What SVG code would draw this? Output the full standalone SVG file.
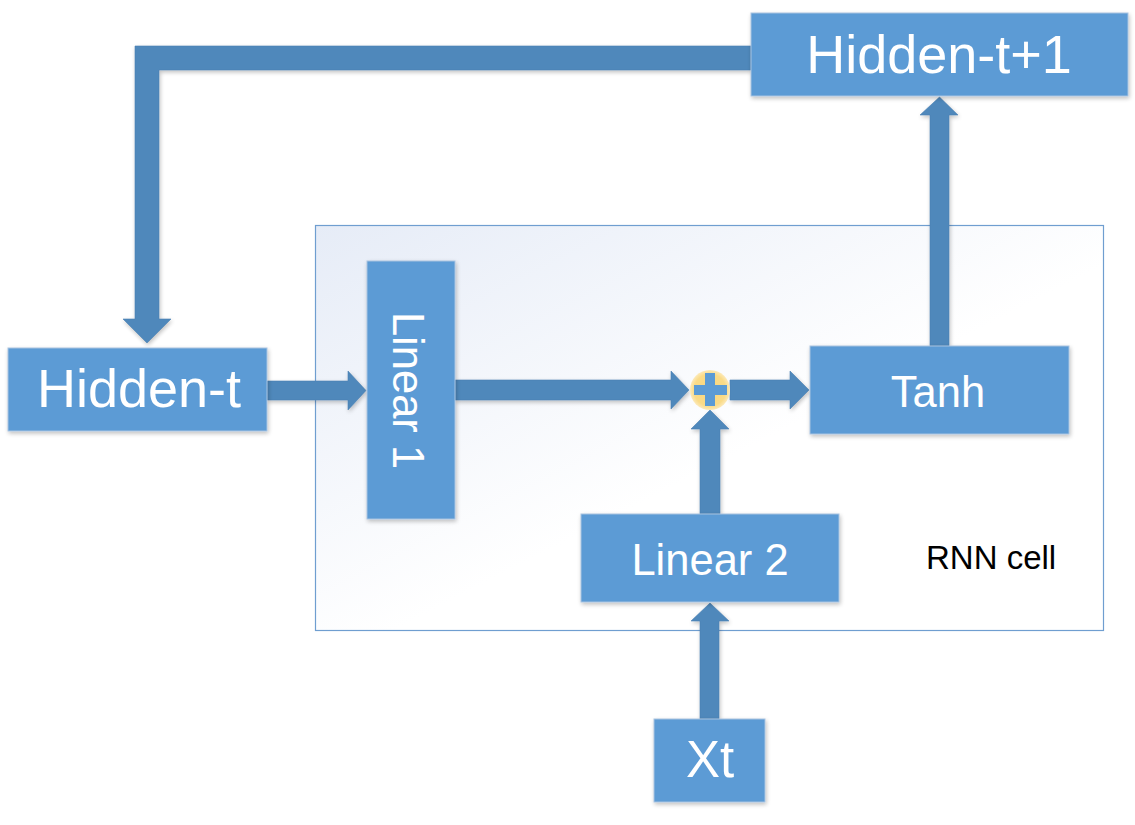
<svg xmlns="http://www.w3.org/2000/svg" width="1135" height="825" viewBox="0 0 1135 825">
<defs>
<linearGradient id="cellGrad" x1="0" y1="0" x2="1" y2="1">
<stop offset="0" stop-color="#E6ECF7"/>
<stop offset="0.55" stop-color="#FFFFFF"/>
<stop offset="1" stop-color="#FFFFFF"/>
</linearGradient>
<radialGradient id="plusGrad" cx="0.5" cy="0.5" r="0.5">
<stop offset="0" stop-color="#F9D77E"/>
<stop offset="0.8" stop-color="#FADB88"/>
<stop offset="1" stop-color="#FCE9B8"/>
</radialGradient>
<filter id="shadow" x="-10%" y="-10%" width="125%" height="125%">
<feGaussianBlur in="SourceAlpha" stdDeviation="2"/>
<feOffset dx="1" dy="2" result="b"/>
<feComponentTransfer><feFuncA type="linear" slope="0.25"/></feComponentTransfer>
<feMerge><feMergeNode/><feMergeNode in="SourceGraphic"/></feMerge>
</filter>
</defs>
<style>
.box{fill:#5B9BD5;stroke:#A9C3E0;stroke-width:1;filter:url(#shadow);}
.arrow{fill:#4F88BB;stroke:#4A80B2;stroke-width:0.6;filter:url(#shadow);}
.lbl{font-family:"Liberation Sans",Arial,sans-serif;fill:#FFFFFF;text-anchor:middle;}
</style>
<rect width="1135" height="825" fill="#FFFFFF"/>
<g id="rnn-cell">
<rect x="315.5" y="225.5" width="788" height="405" fill="url(#cellGrad)" stroke="#6F9ED0" stroke-width="1.2"/>
<text x="926" y="569" font-family="Liberation Sans, Arial, sans-serif" font-size="33" fill="#000000">RNN cell</text>
</g>
<g id="connectors">
<polygon class="arrow" points="751,46 135,46 135,319 123,319 147,343 171,319 159,319 159,70 751,70"/>
<polygon class="arrow" points="267,381 348,381 348,371 366,390.5 348,410 348,400 267,400"/>
<polygon class="arrow" points="455,380 671,380 671,371 689,390 671,409 671,400 455,400"/>
<polygon class="arrow" points="730,380 790,380 790,371 809,390 790,409 790,400 730,400"/>
<polygon class="arrow" points="700,514 700,429 691,429 710,410 729,429 720,429 720,514"/>
<polygon class="arrow" points="700,719 700,621 691,621 710,603 729,621 719,621 719,719"/>
<polygon class="arrow" points="930,346 930,115 920,115 939.5,97 958,115 949,115 949,346"/>
</g>
<g id="hidden-t1">
<rect class="box" x="751" y="13" width="377" height="83"/>
<text class="lbl" x="939" y="73" font-size="54">Hidden-t+1</text>
</g>
<g id="hidden-t">
<rect class="box" x="8" y="348" width="259" height="83"/>
<text class="lbl" x="139" y="407" font-size="54">Hidden-t</text>
</g>
<g id="linear1">
<rect class="box" x="367" y="261" width="88" height="258"/>
<text class="lbl" transform="translate(393,390.5) rotate(90)" font-size="43.5">Linear 1</text>
</g>
<g id="plus">
<circle cx="710" cy="390" r="20" fill="url(#plusGrad)"/>
<rect x="694" y="385" width="33" height="10" fill="#5B9BD5"/>
<rect x="705" y="373" width="10" height="33" fill="#5B9BD5"/>
</g>
<g id="tanh">
<rect class="box" x="810" y="346" width="259" height="88"/>
<text class="lbl" x="938" y="407" font-size="43.5">Tanh</text>
</g>
<g id="linear2">
<rect class="box" x="581" y="514" width="258" height="88"/>
<text class="lbl" x="710" y="575" font-size="43.5">Linear 2</text>
</g>
<g id="xt">
<rect class="box" x="654" y="719" width="111" height="83"/>
<text class="lbl" x="710" y="777" font-size="51">Xt</text>
</g>
</svg>
